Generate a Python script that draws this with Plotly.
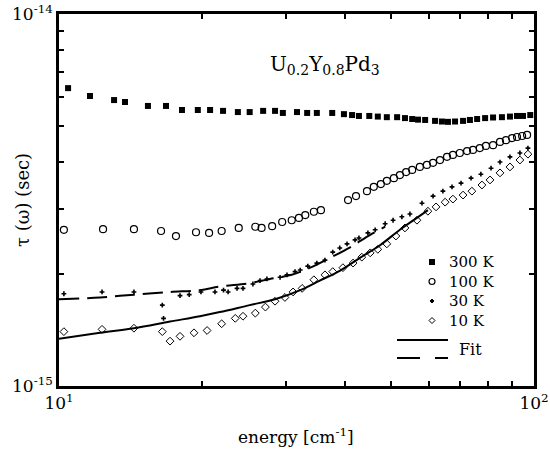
import plotly.graph_objects as go

# energy in cm^-1, tau in units of 1e-15 s
E_300 = [10.45, 11.62, 13.06, 13.77, 15.39, 16.8, 18.15, 19.6, 20.8, 22.15, 23.8, 25.2, 26.9, 28.5,
         29.6, 31.7, 33.3, 34.9, 37.6, 39.8, 41.4, 42.8, 45.0, 46.9, 49.0, 51.5, 53.5, 55.4, 57.0,
         59.0, 61.9, 64.0, 65.9, 68.2, 70.9, 73.3, 75.9, 78.9, 82.0, 85.6, 89.0, 92.1, 94.8, 98.2]
T_300 = [6.32, 6.02, 5.87, 5.80, 5.66, 5.66, 5.52, 5.52, 5.52, 5.49, 5.45, 5.45, 5.49, 5.49,
         5.42, 5.45, 5.42, 5.42, 5.42, 5.38, 5.35, 5.32, 5.32, 5.30, 5.28, 5.28, 5.25, 5.22, 5.20,
         5.19, 5.16, 5.14, 5.13, 5.14, 5.16, 5.19, 5.22, 5.25, 5.27, 5.28, 5.30, 5.32, 5.32, 5.35]

E_100 = [10.24, 12.38, 14.38, 16.4, 17.63, 19.43, 20.7, 22.0, 23.9, 25.9, 26.7, 28.1, 29.5, 30.9,
         32.0, 33.0, 34.4, 35.6, 40.6, 42.2, 44.5, 46.0, 47.6, 49.0, 50.7, 52.2, 53.8, 55.4, 57.5,
         59.5, 61.3, 63.4, 65.6, 67.5, 69.8, 72.3, 74.4, 76.9, 79.2, 82.0, 84.8, 87.3, 89.9, 92.1,
         94.4, 96.7]
T_100 = [2.63, 2.64, 2.64, 2.61, 2.53, 2.59, 2.58, 2.61, 2.66, 2.68, 2.66, 2.69, 2.76, 2.79,
         2.83, 2.88, 2.94, 2.97, 3.16, 3.24, 3.34, 3.43, 3.49, 3.56, 3.62, 3.69, 3.76, 3.81, 3.88,
         3.93, 3.98, 4.05, 4.13, 4.18, 4.23, 4.28, 4.31, 4.36, 4.42, 4.44, 4.53, 4.58, 4.64, 4.67,
         4.70, 4.73]

E_30 = [10.24, 12.32, 14.38, 16.5, 16.6, 17.98, 18.8, 19.9, 21.3, 22.2, 22.7, 23.7, 24.4, 25.6,
        26.5, 27.4, 29.2, 30.2, 31.4, 32.2, 33.4, 34.9, 36.3, 37.7, 39.0, 40.4, 42.0, 42.8, 44.7,
        46.3, 48.6, 50.5, 52.7, 54.8, 58.1, 61.3, 64.3, 67.2, 70.2, 73.7, 77.3, 81.2, 84.8, 89.0,
        93.4, 97.1]
T_30 = [1.77, 1.79, 1.79, 1.65, 1.52, 1.75, 1.76, 1.79, 1.79, 1.81, 1.79, 1.83, 1.83, 1.88,
        1.92, 1.94, 1.96, 1.99, 2.03, 2.05, 2.10, 2.14, 2.18, 2.29, 2.35, 2.41, 2.47, 2.50, 2.58,
        2.63, 2.73, 2.79, 2.85, 2.90, 3.10, 3.24, 3.34, 3.43, 3.51, 3.62, 3.71, 3.85, 4.00, 4.13,
        4.23, 4.36]

E_10 = [10.24, 12.32, 14.38, 16.5, 17.13, 17.98, 19.24, 20.5, 22.0, 23.5, 24.4, 25.9, 27.2, 28.5,
        29.9, 31.1, 32.5, 34.4, 36.3, 37.7, 39.6, 41.6, 43.4, 45.2, 46.9, 49.0, 51.2, 53.5, 56.7,
        59.8, 62.2, 65.0, 67.5, 70.9, 74.0, 77.7, 80.8, 84.8, 89.0, 93.4, 97.1]
T_10 = [1.40, 1.42, 1.43, 1.40, 1.32, 1.36, 1.39, 1.41, 1.47, 1.52, 1.54, 1.57, 1.63, 1.69,
        1.73, 1.79, 1.83, 1.93, 1.99, 2.03, 2.08, 2.14, 2.22, 2.28, 2.33, 2.41, 2.53, 2.66, 2.79,
        2.95, 3.03, 3.12, 3.18, 3.26, 3.34, 3.47, 3.58, 3.74, 3.88, 4.05, 4.20]

E_fit_solid = [10.0, 12.2, 14.38, 17.13, 19.8, 21.8, 25.2, 28.5, 32.2, 35.4, 39.0, 43.0, 47.4, 52.2, 56.2, 59.8]
T_fit_solid = [1.34, 1.39, 1.43, 1.49, 1.54, 1.58, 1.65, 1.71, 1.81, 1.92, 2.04, 2.21, 2.39, 2.63, 2.81, 2.97]

E_fit_dash = [10.0, 12.2, 14.38, 17.13, 19.8, 21.8, 25.2, 27.8, 30.9, 33.8, 37.2, 41.0, 45.2, 48.6]
T_fit_dash = [1.71, 1.73, 1.76, 1.79, 1.81, 1.85, 1.89, 1.94, 1.99, 2.08, 2.21, 2.36, 2.55, 2.68]

x_ticks = [10, 20, 30, 40, 50, 60, 70, 80, 90, 100]
x_ticktext = ["10<sup>1</sup>", "", "", "", "", "", "", "", "", "10<sup>2</sup>"]
y_ticks_e15 = [1, 2, 3, 4, 5, 6, 7, 8, 9, 10]
y_ticktext = ["10<sup>-15</sup>", "", "", "", "", "", "", "", "", "10<sup>-14</sup>"]
legend_labels = ["300 K", "100 K", "30 K", "10 K"]

S = 1e-15
FONT = "DejaVu Serif"

fig = go.Figure()
fig.add_trace(go.Scatter(x=E_fit_solid, y=[v * S for v in T_fit_solid], mode="lines",
                         line=dict(color="black", width=2, shape="spline"), name="Fit (10 K)", showlegend=False))
fig.add_trace(go.Scatter(x=E_fit_dash, y=[v * S for v in T_fit_dash], mode="lines",
                         line=dict(color="black", width=2, dash="20px,8px", shape="spline"), name="Fit (30 K)", showlegend=False))
fig.add_trace(go.Scatter(x=E_300, y=[v * S for v in T_300], mode="markers", name="300 K",
                         marker=dict(symbol="square", size=6, color="black"), showlegend=False))
fig.add_trace(go.Scatter(x=E_100, y=[v * S for v in T_100], mode="markers", name="100 K",
                         marker=dict(symbol="circle-open", size=7, color="black", line=dict(width=1.2)), showlegend=False))
fig.add_trace(go.Scatter(x=E_30, y=[v * S for v in T_30], mode="markers", name="30 K",
                         marker=dict(symbol="cross", size=4, color="black"), showlegend=False))
fig.add_trace(go.Scatter(x=E_10, y=[v * S for v in T_10], mode="markers", name="10 K",
                         marker=dict(symbol="diamond-open", size=6, color="black", line=dict(width=1)), showlegend=False))

L, R, T, B = 59, 16, 14, 63
W, H = 550, 449
pw, ph = W - L - R, H - T - B


def px(xp):
    return (xp - L) / pw


def py(yp):
    return (H - B - yp) / ph


LEG_FS = 15
row_gap = LEG_FS * 1.3
row_px = [262 + i * row_gap for i in range(4)]
rows = [py(r) for r in row_px]

shapes = []
lx = px(432)
shapes.append(dict(type="rect", xref="paper", yref="paper", xsizemode="pixel", ysizemode="pixel",
                   xanchor=lx, yanchor=rows[0], x0=-3, x1=3, y0=-3, y1=3,
                   fillcolor="black", line=dict(width=0)))
shapes.append(dict(type="circle", xref="paper", yref="paper", xsizemode="pixel", ysizemode="pixel",
                   xanchor=lx, yanchor=rows[1], x0=-3, x1=3, y0=-3, y1=3,
                   line=dict(color="black", width=1.2)))
shapes.append(dict(type="path", xref="paper", yref="paper", xsizemode="pixel", ysizemode="pixel",
                   xanchor=lx, yanchor=rows[2], path="M -2 0 L 0 2 L 2 0 L 0 -2 Z",
                   fillcolor="black", line=dict(color="black", width=1)))
shapes.append(dict(type="path", xref="paper", yref="paper", xsizemode="pixel", ysizemode="pixel",
                   xanchor=lx, yanchor=rows[3], path="M -3 0 L 0 3 L 3 0 L 0 -3 Z",
                   line=dict(color="black", width=1)))
shapes.append(dict(type="line", xref="paper", yref="paper", x0=px(397), x1=px(448), y0=py(340), y1=py(340),
                   line=dict(color="black", width=2)))
shapes.append(dict(type="line", xref="paper", yref="paper", x0=px(397), x1=px(448), y0=py(358), y1=py(358),
                   line=dict(color="black", width=2, dash="23px,15px")))

ann = []
ann.append(dict(text="<br>".join(legend_labels), x=px(447), y=py((row_px[0] + row_px[-1]) / 2),
                xref="paper", yref="paper", xanchor="left", yanchor="middle", align="left",
                showarrow=False, font=dict(family=FONT, size=LEG_FS, color="black")))
ann.append(dict(text="Fit", x=px(457), y=py(349), xref="paper", yref="paper", xanchor="left",
                yanchor="middle", showarrow=False, font=dict(family=FONT, size=16, color="black")))
ann.append(dict(text="U<sub>0.2</sub>Y<sub>0.8</sub>Pd<sub>3</sub>", x=px(325), y=py(65), xref="paper",
                yref="paper", xanchor="center", yanchor="middle", showarrow=False,
                font=dict(family=FONT, size=20, color="black")))
ann.append(dict(text="energy [cm<sup>-1</sup>]", x=px(296), y=py(436), xref="paper", yref="paper",
                xanchor="center", yanchor="middle", showarrow=False,
                font=dict(family=FONT, size=17, color="black")))
ann.append(dict(text="τ (ω) (sec)", x=px(22), y=py(200), xref="paper", yref="paper", textangle=-90,
                xanchor="center", yanchor="middle", showarrow=False,
                font=dict(family=FONT, size=18, color="black")))

axis_common = dict(showline=True, linecolor="black", linewidth=2.5, mirror="ticks", ticks="inside",
                   ticklen=5, tickwidth=1.5, tickcolor="black", showgrid=False, zeroline=False,
                   automargin=False, tickfont=dict(family=FONT, size=17, color="black"))

fig.update_layout(
    width=W, height=H, margin=dict(l=L, r=R, t=T, b=B, autoexpand=False),
    paper_bgcolor="white", plot_bgcolor="white", showlegend=False,
    xaxis=dict(type="log", range=[1, 2], tickvals=x_ticks, ticktext=x_ticktext, **axis_common),
    yaxis=dict(type="log", range=[-15, -14], tickvals=[v * S for v in y_ticks_e15], ticktext=y_ticktext,
               **axis_common),
    shapes=shapes, annotations=ann,
)

fig.write_html("out.html")
